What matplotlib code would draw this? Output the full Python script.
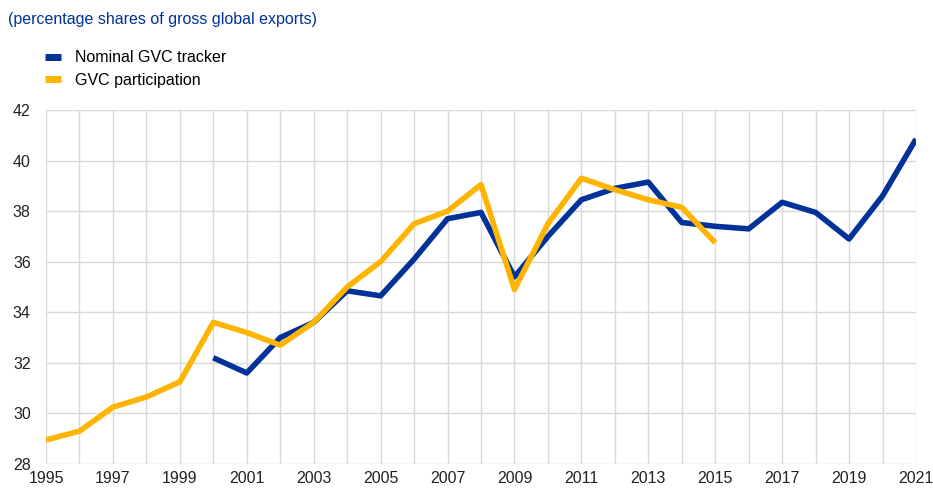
import matplotlib.pyplot as plt
from matplotlib.lines import Line2D

# === DATA ===
years_part = list(range(1995, 2016))
gvc_participation = [28.95, 29.3, 30.25, 30.65, 31.25, 33.6, 33.2, 32.7, 33.6, 35.0,
                     36.0, 37.5, 38.0, 39.05, 34.9, 37.5, 39.3, 38.85, 38.45, 38.15, 36.75]

years_tracker = list(range(2000, 2022))
gvc_tracker = [32.2, 31.6, 33.0, 33.6, 34.85, 34.65, 36.1, 37.7, 37.95, 35.4, 37.0,
               38.45, 38.9, 39.15, 37.55, 37.4, 37.3, 38.35, 37.95, 36.9, 38.6, 40.85]

BLUE = "#003299"
YELLOW = "#FFB400"

plt.rcParams['font.family'] = ['Liberation Sans', 'DejaVu Sans']

# === DRAW ===
fig = plt.figure(figsize=(9.33, 4.88), dpi=100)
ax = fig.add_axes([46 / 933, 1 - 464 / 488, (916 - 46) / 933, (464 - 110) / 488])

ax.plot(years_tracker, gvc_tracker, color=BLUE, lw=4, solid_capstyle='butt', zorder=3)
ax.plot(years_part, gvc_participation, color=YELLOW, lw=4, solid_capstyle='butt', zorder=4)

ax.set_xlim(1995, 2021)
ax.set_ylim(28, 42)
ax.set_xticks(range(1995, 2022, 2))
ax.set_xticks(range(1995, 2022), minor=True)
ax.set_yticks(range(28, 43, 2))
ax.grid(True, which='both', color='#d9d9d9', lw=1, zorder=0)
ax.set_axisbelow(True)
for s in ax.spines.values():
    s.set_visible(False)
ax.tick_params(which='both', length=0, labelsize=11.5, colors='#222222')
ax.tick_params(axis='x', pad=5)
ax.tick_params(axis='y', pad=11)

fig.text(8 / 933, 1 - 24 / 488, "(percentage shares of gross global exports)",
         color=BLUE, fontsize=11.5, va='baseline', ha='left')

handles = [Line2D([], [], color=BLUE, lw=5, solid_capstyle='butt'),
           Line2D([], [], color=YELLOW, lw=5, solid_capstyle='butt')]
fig.legend(handles, ["Nominal GVC tracker", "GVC participation"],
           loc='upper left', bbox_to_anchor=(39 / 933, 1 - 44 / 488),
           frameon=False, fontsize=11.5, handlelength=1.0, handletextpad=0.85,
           labelspacing=0.45, borderaxespad=0)

fig.savefig("out.png", dpi=100)
